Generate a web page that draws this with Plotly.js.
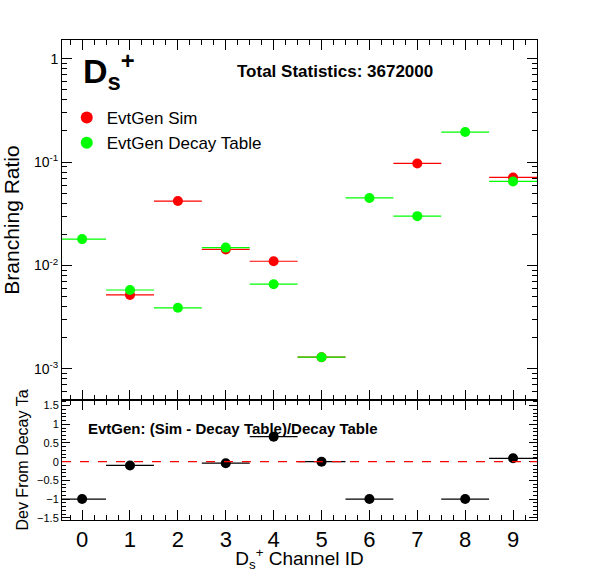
<!DOCTYPE html><html><head><script src="https://cdn.plot.ly/plotly-3.0.1.min.js"></script>
<style>body{margin:0}</style></head><body><div id="g" style="width:596px;height:572px"></div><script>
const channels=[0,1,2,3,4,5,6,7,8,9];
const simBR=[null,0.0052,0.042,0.0143,0.011,0.0013,null,0.097,null,0.071];
const tableBR=[0.018,0.0058,0.0039,0.0149,0.0066,0.0013,0.045,0.030,0.195,0.065];
const dev=[-1,-0.1,9.77,-0.04,0.67,0,-1,2.23,-1,0.09];
const halfW=channels.map(()=>0.5);
const ex={type:'data',array:halfW,visible:true,width:0,thickness:1.2};
const f='Liberation Sans, Arial, sans-serif';
const data=[
{x:channels,y:simBR,mode:'markers',name:'EvtGen Sim',marker:{color:'#ff0000',size:10},error_x:{...ex,color:'#ff0000'},xaxis:'x',yaxis:'y'},
{x:channels,y:tableBR,mode:'markers',name:'EvtGen Decay Table',marker:{color:'#00ff00',size:10},error_x:{...ex,color:'#00ff00'},xaxis:'x',yaxis:'y'},
{x:channels,y:dev,mode:'markers',showlegend:false,marker:{color:'#000',size:10},error_x:{...ex,color:'#000'},xaxis:'x2',yaxis:'y2'}
];
const ax={showline:true,mirror:'ticks',linecolor:'#000',ticks:'inside',ticklen:10,tickcolor:'#000',zeroline:false,showgrid:false};
const layout={width:596,height:572,margin:{l:62,r:59,t:40,b:52},paper_bgcolor:'#fff',plot_bgcolor:'#fff',font:{family:f,color:'#000'},
xaxis:{...ax,range:[-0.42,9.5],domain:[0,1],anchor:'y',showticklabels:false,dtick:1,minor:{ticks:'inside',ticklen:5,dtick:0.25,tickcolor:'#000'}},
yaxis:{...ax,type:'log',range:[-3.3,0.18],domain:[0.25,1],anchor:'x',tickvals:[0.001,0.01,0.1,1],ticktext:['10<sup>-3</sup>','10<sup>-2</sup>','10<sup>-1</sup>','1'],tickfont:{size:14},minor:{ticks:'inside',ticklen:5,tickcolor:'#000',tickvals:[2e-4,3e-4,4e-4,5e-4,6e-4,7e-4,8e-4,9e-4,2e-3,3e-3,4e-3,5e-3,6e-3,7e-3,8e-3,9e-3,.02,.03,.04,.05,.06,.07,.08,.09,.2,.3,.4,.5,.6,.7,.8,.9]},title:{text:'Branching Ratio',font:{size:21},standoff:8}},
xaxis2:{...ax,range:[-0.42,9.5],domain:[0,1],anchor:'y2',dtick:1,tickfont:{size:22},minor:{ticks:'inside',ticklen:5,dtick:0.25,tickcolor:'#000'},title:{text:'D<sub>s</sub><sup>+</sup> Channel ID',font:{size:19},standoff:0}},
yaxis2:{...ax,range:[-1.56,1.65],domain:[0,0.25],anchor:'x2',tickvals:[-1.5,-1,-0.5,0,0.5,1,1.5],ticktext:['−1.5','−1','−0.5','0','0.5','1','1.5'],tickfont:{size:11},ticklen:8,minor:{ticks:'inside',ticklen:4,dtick:0.1,tickcolor:'#000'},title:{text:'Dev From Decay Ta',font:{size:16},standoff:4}},
legend:{x:0.01,y:0.875,xanchor:'left',yanchor:'top',bgcolor:'rgba(0,0,0,0)',font:{size:17},itemsizing:'constant'},
shapes:[{type:'line',xref:'x2',yref:'y2',x0:-0.42,x1:9.5,y0:0,y1:0,line:{color:'#ff0000',width:1.2,dash:'dash'}}],
annotations:[
{xref:'paper',yref:'paper',x:0.04,y:0.99,xanchor:'left',yanchor:'top',showarrow:false,text:'<b>D<sub>s</sub><sup>+</sup></b>',font:{size:34}},
{xref:'paper',yref:'paper',x:0.365,y:0.935,xanchor:'left',yanchor:'middle',showarrow:false,text:'<b>Total Statistics: 3672000</b>',font:{size:17}},
{xref:'paper',yref:'paper',x:0.05,y:0.19,xanchor:'left',yanchor:'middle',showarrow:false,text:'<b>EvtGen: (Sim - Decay Table)/Decay Table</b>',font:{size:15}}
]};
Plotly.newPlot('g',data,layout,{displayModeBar:false});
</script></body></html>
